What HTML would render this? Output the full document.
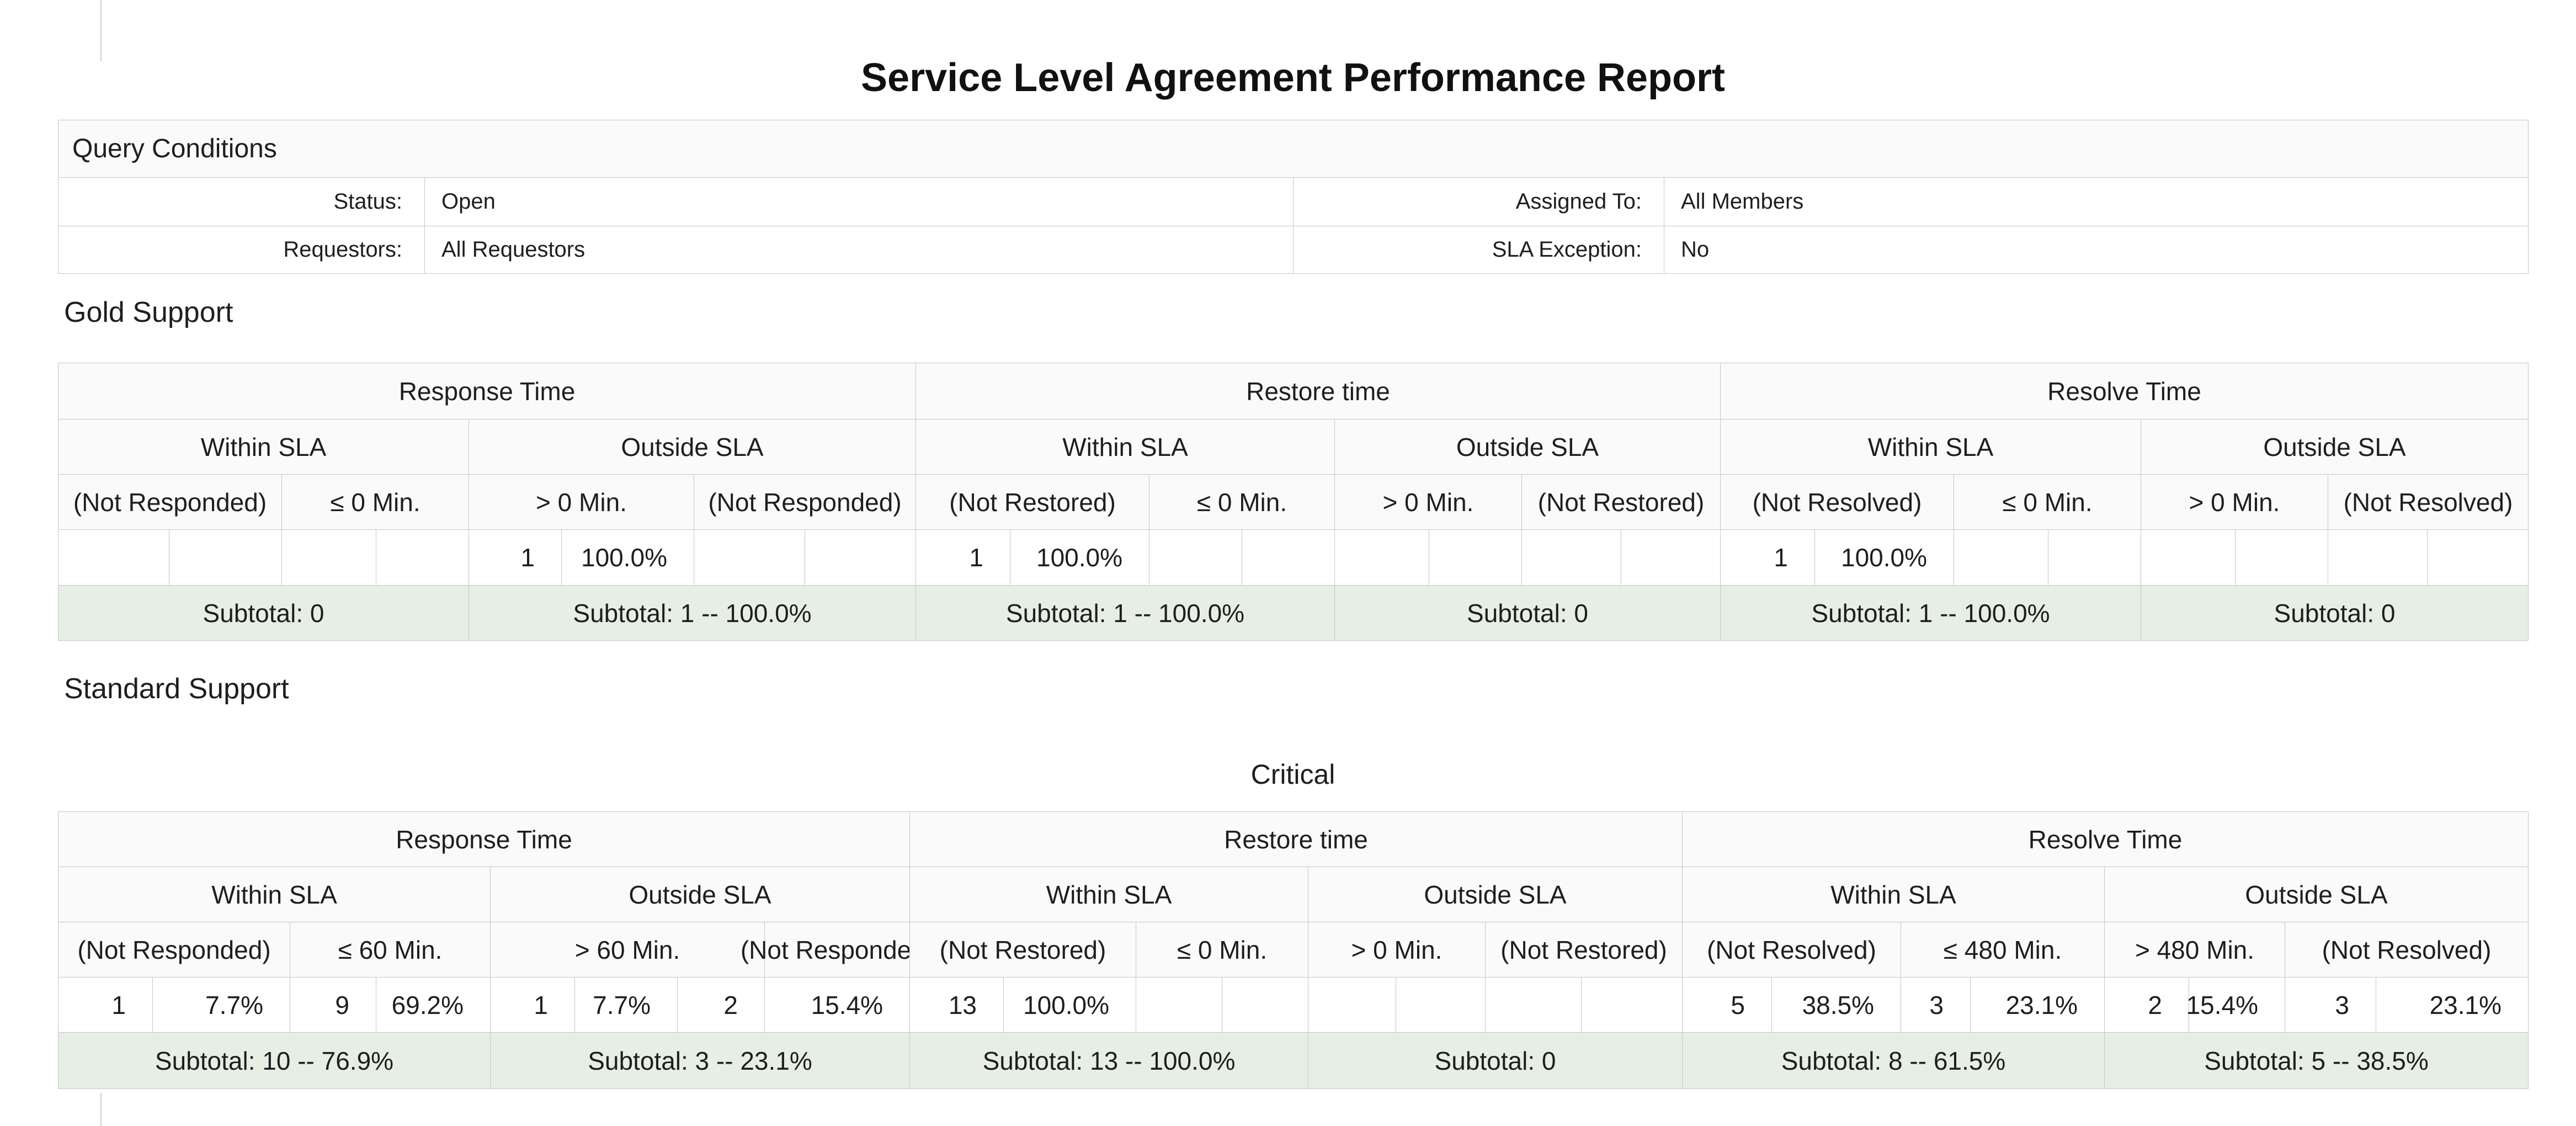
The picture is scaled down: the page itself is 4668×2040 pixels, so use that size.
<!DOCTYPE html>
<html><head><meta charset="utf-8">
<style>
html,body{margin:0;padding:0;background:#fff;}
body{width:4668px;height:2040px;position:relative;overflow:hidden;font-family:"Liberation Sans",sans-serif;color:#1e1e1e;}
.c{position:absolute;box-sizing:border-box;border:1px solid #c6c6c6;display:flex;align-items:center;justify-content:center;font-size:46px;white-space:nowrap;}
.h{background:#fafafa;}
.d{background:#fff;justify-content:flex-end;padding-right:48px;}
.s{background:#e7efe5;}
.ql{background:#fff;justify-content:flex-end;padding-right:40px;font-size:40px;}
.qv{background:#fff;justify-content:flex-start;padding-left:30px;font-size:40px;}
.qh{background:#fafafa;justify-content:flex-start;padding-left:25px;font-size:48px;}
.t{position:absolute;white-space:nowrap;}
</style></head>
<body>
<div style="position:absolute;left:182px;top:0;width:2px;height:111px;background:#d0d0d0"></div>
<div style="position:absolute;left:182px;top:1980px;width:2px;height:60px;background:#d0d0d0"></div>
<div class="t" style="left:0;width:4686px;text-align:center;top:100px;font-size:72px;font-weight:bold;color:#111">Service Level Agreement Performance Report</div>
<div class="t" style="left:116px;top:536px;font-size:52px">Gold Support</div>
<div class="t" style="left:116px;top:1218px;font-size:52px">Standard Support</div>
<div class="t" style="left:0;width:4686px;text-align:center;top:1374px;font-size:50px">Critical</div>
<div id="root"></div>
<script>
var root=document.getElementById('root');
function cell(x1,x2,y1,y2,txt,cls,name){
  var el=document.createElement('div');
  el.className='c '+cls;
  el.style.left=x1+'px';el.style.top=y1+'px';
  el.style.width=(x2-x1+1)+'px';el.style.height=(y2-y1+1)+'px';
  el.textContent=txt;
  
  
  root.appendChild(el);
}
// Query conditions
cell(105,4581,217,321,'Query Conditions','qh','query-conditions-header');
var qRows=[[321,409,'Status:','Open','Assigned To:','All Members'],[409,495,'Requestors:','All Requestors','SLA Exception:','No']];
qRows.forEach(function(r,i){
  cell(105,769,r[0],r[1],r[2],'ql','query-label');
  cell(769,2343,r[0],r[1],r[3],'qv','query-value');
  cell(2343,3015,r[0],r[1],r[4],'ql','query-label');
  cell(3015,4581,r[0],r[1],r[5],'qv','query-value');
});
function buildTable(Y,top,mid,lvl3,data,l3txt,vals,subs,prefix){
  var groups=['Response Time','Restore time','Resolve Time'];
  for(var i=0;i<3;i++) cell(top[i],top[i+1],Y[0],Y[1],groups[i],'h',prefix+'-group-header');
  for(var i=0;i<6;i++) cell(mid[i],mid[i+1],Y[1],Y[2],i%2?'Outside SLA':'Within SLA','h',prefix+'-sla-header');
  for(var i=0;i<12;i++) cell(lvl3[i],lvl3[i+1],Y[2],Y[3],l3txt[i],'h',prefix+'-bucket-header');
  for(var i=0;i<24;i++) cell(data[i],data[i+1],Y[3],Y[4],vals[i],'d',prefix+'-data-cell');
  for(var i=0;i<6;i++) cell(mid[i],mid[i+1],Y[4],Y[5],subs[i],'s',prefix+'-subtotal');
}
// Gold
var goldValues=['','','','','1','100.0%','','','1','100.0%','','','','','','','1','100.0%','','','','','',''];
var goldSubtotals=['Subtotal: 0','Subtotal: 1 -- 100.0%','Subtotal: 1 -- 100.0%','Subtotal: 0','Subtotal: 1 -- 100.0%','Subtotal: 0'];
buildTable([657,759,859,959,1060,1160],[105,1659,3117,4581],[105,849,1659,2418,3117,3879,4581],
 [105,510,849,1257,1659,2082,2418,2757,3117,3540,3879,4218,4581],
 [105,306,510,681,849,1017,1257,1458,1659,1830,2082,2250,2418,2589,2757,2937,3117,3288,3540,3711,3879,4050,4218,4398,4581],
 ['(Not Responded)','≤ 0 Min.','> 0 Min.','(Not Responded)','(Not Restored)','≤ 0 Min.','> 0 Min.','(Not Restored)','(Not Resolved)','≤ 0 Min.','> 0 Min.','(Not Resolved)'],
 goldValues,goldSubtotals,'gold');
// Critical
var critValues=['1','7.7%','9','69.2%','1','7.7%','2','15.4%','13','100.0%','','','','','','','5','38.5%','3','23.1%','2','15.4%','3','23.1%'];
var critSubtotals=['Subtotal: 10 -- 76.9%','Subtotal: 3 -- 23.1%','Subtotal: 13 -- 100.0%','Subtotal: 0','Subtotal: 8 -- 61.5%','Subtotal: 5 -- 38.5%'];
buildTable([1470,1570,1670,1770,1870,1972],[105,1648,3048,4581],[105,888,1648,2370,3048,3813,4581],
 [105,525,888,1385,1648,2058,2370,2691,3048,3444,3813,4140,4581],
 [105,276,525,681,888,1041,1227,1385,1648,1818,2058,2214,2370,2529,2691,2865,3048,3210,3444,3570,3813,3966,4140,4305,4581],
 ['(Not Responded)','≤ 60 Min.','> 60 Min.','(Not Responded)','(Not Restored)','≤ 0 Min.','> 0 Min.','(Not Restored)','(Not Resolved)','≤ 480 Min.','> 480 Min.','(Not Resolved)'],
 critValues,critSubtotals,'critical');
</script>
</body></html>
